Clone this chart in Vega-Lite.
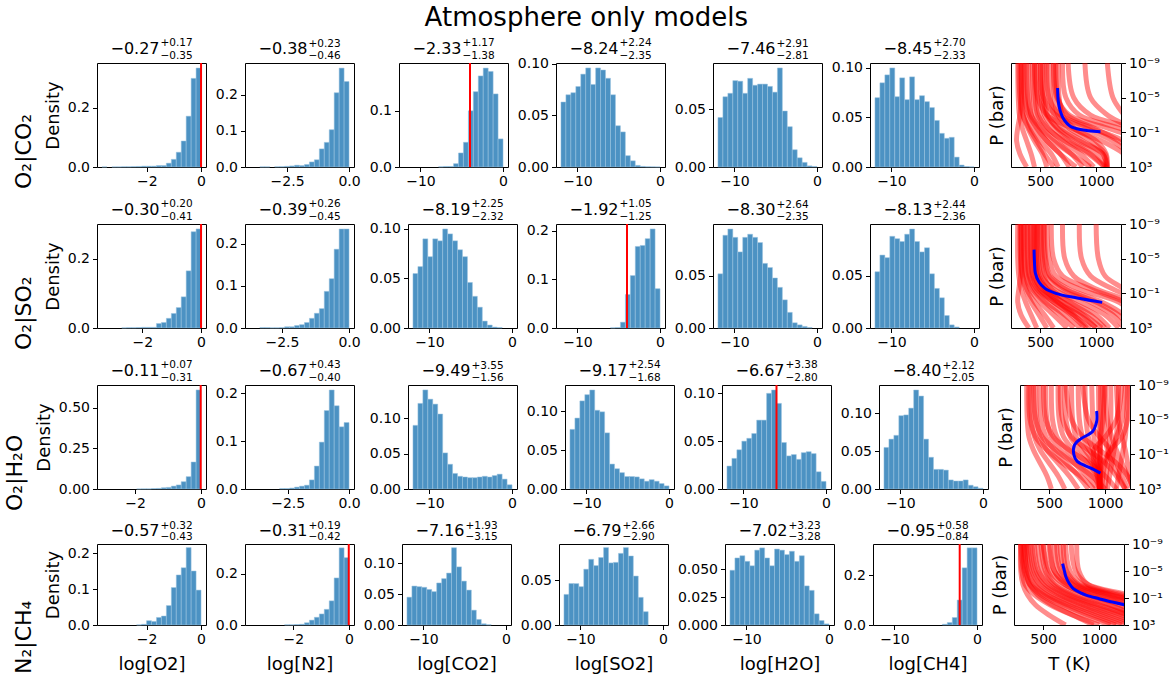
{
"$schema":"https://vega.github.io/schema/vega-lite/v6.json",
"background":"white",
"padding":{"left":3,"top":4,"right":4,"bottom":4},
"title":{"text":"Atmosphere only models","fontSize":26,"fontWeight":"normal","font":"DejaVu Sans","color":"black","anchor":"middle","offset":7},
"config":{
 "font":"DejaVu Sans",
 "view":{"stroke":"black","strokeWidth":1},
 "axis":{"labelFont":"DejaVu Sans","titleFont":"DejaVu Sans","labelFontSize":14,"labelColor":"black","tickColor":"black","tickSize":4.5,"tickWidth":1,"labelPadding":3,"domain":false,"grid":false,"titleFontSize":18,"titleFontWeight":"normal","titleColor":"black","titlePadding":5,"labelFlush":false,"labelOverlap":false},
 "axisX":{"titlePadding":9},
 "bar":{"color":"#4c92c3","stroke":"#9cc4e0","strokeWidth":0.5},
 "rule":{"color":"red","strokeWidth":2},
 "text":{"font":"DejaVu Sans","color":"black","baseline":"alphabetic"},
 "concat":{"spacing":7}
},
"datasets":{
"h11":[{"a":-3.65,"b":-3.468,"d":0.0005},{"a":-3.285,"b":-3.103,"d":0.0005},{"a":-3.103,"b":-2.92,"d":0.0005},{"a":-2.92,"b":-2.738,"d":0.001},{"a":-2.738,"b":-2.555,"d":0.001},{"a":-2.555,"b":-2.373,"d":0.0015},{"a":-2.373,"b":-2.19,"d":0.002},{"a":-2.19,"b":-2.008,"d":0.003},{"a":-2.008,"b":-1.825,"d":0.003},{"a":-1.825,"b":-1.643,"d":0.003},{"a":-1.643,"b":-1.46,"d":0.005},{"a":-1.46,"b":-1.278,"d":0.005},{"a":-1.278,"b":-1.095,"d":0.013},{"a":-1.095,"b":-0.913,"d":0.026},{"a":-0.913,"b":-0.73,"d":0.05},{"a":-0.73,"b":-0.548,"d":0.088},{"a":-0.548,"b":-0.365,"d":0.172},{"a":-0.365,"b":-0.183,"d":0.3},{"a":-0.183,"b":0,"d":0.335}],
"h12":[{"a":-3.6,"b":-3.4,"d":0.0005},{"a":-3.4,"b":-3.2,"d":0.0005},{"a":-3,"b":-2.8,"d":0.001},{"a":-2.8,"b":-2.6,"d":0.001},{"a":-2.6,"b":-2.4,"d":0.002},{"a":-2.4,"b":-2.2,"d":0.003},{"a":-2.2,"b":-2,"d":0.005},{"a":-2,"b":-1.8,"d":0.004},{"a":-1.8,"b":-1.6,"d":0.007},{"a":-1.6,"b":-1.4,"d":0.014},{"a":-1.4,"b":-1.2,"d":0.02},{"a":-1.2,"b":-1,"d":0.05},{"a":-1,"b":-0.8,"d":0.068},{"a":-0.8,"b":-0.6,"d":0.103},{"a":-0.6,"b":-0.4,"d":0.205},{"a":-0.4,"b":-0.2,"d":0.273},{"a":-0.2,"b":0,"d":0.236}],
"h13":[{"a":-7.8,"b":-7.2,"d":0.0005},{"a":-7.2,"b":-6.6,"d":0.001},{"a":-6.6,"b":-6,"d":0.001},{"a":-6,"b":-5.4,"d":0.006},{"a":-5.4,"b":-4.8,"d":0.025},{"a":-4.8,"b":-4.2,"d":0.044},{"a":-4.2,"b":-3.6,"d":0.1},{"a":-3.6,"b":-3,"d":0.134},{"a":-3,"b":-2.4,"d":0.162},{"a":-2.4,"b":-1.8,"d":0.176},{"a":-1.8,"b":-1.2,"d":0.17},{"a":-1.2,"b":-0.6,"d":0.13},{"a":-0.6,"b":0,"d":0.05}],
"h14":[{"a":-12,"b":-11.4,"d":0.063},{"a":-11.4,"b":-10.8,"d":0.07},{"a":-10.8,"b":-10.2,"d":0.072},{"a":-10.2,"b":-9.6,"d":0.078},{"a":-9.6,"b":-9,"d":0.09},{"a":-9,"b":-8.4,"d":0.096},{"a":-8.4,"b":-7.8,"d":0.08},{"a":-7.8,"b":-7.2,"d":0.096},{"a":-7.2,"b":-6.6,"d":0.094},{"a":-6.6,"b":-6,"d":0.086},{"a":-6,"b":-5.4,"d":0.07},{"a":-5.4,"b":-4.8,"d":0.04},{"a":-4.8,"b":-4.2,"d":0.034},{"a":-4.2,"b":-3.6,"d":0.011},{"a":-3.6,"b":-3,"d":0.006},{"a":-3,"b":-2.4,"d":0.0016},{"a":-2.4,"b":-1.8,"d":0.0006},{"a":-1.8,"b":-1.2,"d":0.0003},{"a":-1.2,"b":-0.6,"d":0.0002},{"a":-0.6,"b":0,"d":0.0001}],
"h15":[{"a":-12,"b":-11.4,"d":0.043},{"a":-11.4,"b":-10.8,"d":0.061},{"a":-10.8,"b":-10.2,"d":0.064},{"a":-10.2,"b":-9.6,"d":0.075},{"a":-9.6,"b":-9,"d":0.0745},{"a":-9,"b":-8.4,"d":0.064},{"a":-8.4,"b":-7.8,"d":0.077},{"a":-7.8,"b":-7.2,"d":0.071},{"a":-7.2,"b":-6.6,"d":0.072},{"a":-6.6,"b":-6,"d":0.072},{"a":-6,"b":-5.4,"d":0.07},{"a":-5.4,"b":-4.8,"d":0.065},{"a":-4.8,"b":-4.2,"d":0.086},{"a":-4.2,"b":-3.6,"d":0.0486},{"a":-3.6,"b":-3,"d":0.035},{"a":-3,"b":-2.4,"d":0.015},{"a":-2.4,"b":-1.8,"d":0.008},{"a":-1.8,"b":-1.2,"d":0.004},{"a":-1.2,"b":-0.6,"d":0.001},{"a":-0.6,"b":0,"d":0.0005}],
"h16":[{"a":-12,"b":-11.4,"d":0.07},{"a":-11.4,"b":-10.8,"d":0.085},{"a":-10.8,"b":-10.2,"d":0.093},{"a":-10.2,"b":-9.6,"d":0.1},{"a":-9.6,"b":-9,"d":0.071},{"a":-9,"b":-8.4,"d":0.09},{"a":-8.4,"b":-7.8,"d":0.068},{"a":-7.8,"b":-7.2,"d":0.091},{"a":-7.2,"b":-6.6,"d":0.068},{"a":-6.6,"b":-6,"d":0.072},{"a":-6,"b":-5.4,"d":0.066},{"a":-5.4,"b":-4.8,"d":0.06},{"a":-4.8,"b":-4.2,"d":0.047},{"a":-4.2,"b":-3.6,"d":0.034},{"a":-3.6,"b":-3,"d":0.029},{"a":-3,"b":-2.4,"d":0.03},{"a":-2.4,"b":-1.8,"d":0.01},{"a":-1.8,"b":-1.2,"d":0.002},{"a":-1.2,"b":-0.6,"d":0.0005},{"a":-0.6,"b":0,"d":0.0002}],
"h21":[{"a":-2.704,"b":-2.535,"d":0.0005},{"a":-2.535,"b":-2.366,"d":0.001},{"a":-2.366,"b":-2.197,"d":0.001},{"a":-2.197,"b":-2.028,"d":0.0015},{"a":-2.028,"b":-1.859,"d":0.002},{"a":-1.859,"b":-1.69,"d":0.002},{"a":-1.69,"b":-1.521,"d":0.002},{"a":-1.521,"b":-1.352,"d":0.013},{"a":-1.352,"b":-1.183,"d":0.016},{"a":-1.183,"b":-1.014,"d":0.028},{"a":-1.014,"b":-0.845,"d":0.042},{"a":-0.845,"b":-0.676,"d":0.059},{"a":-0.676,"b":-0.507,"d":0.09},{"a":-0.507,"b":-0.338,"d":0.165},{"a":-0.338,"b":-0.169,"d":0.278},{"a":-0.169,"b":0,"d":0.286}],
"h22":[{"a":-3.321,"b":-3.137,"d":0.001},{"a":-3.137,"b":-2.952,"d":0.001},{"a":-2.952,"b":-2.768,"d":0.0005},{"a":-2.768,"b":-2.583,"d":0.0005},{"a":-2.583,"b":-2.399,"d":0.001},{"a":-2.399,"b":-2.214,"d":0.003},{"a":-2.214,"b":-2.03,"d":0.003},{"a":-2.03,"b":-1.845,"d":0.006},{"a":-1.845,"b":-1.661,"d":0.008},{"a":-1.661,"b":-1.476,"d":0.013},{"a":-1.476,"b":-1.292,"d":0.023},{"a":-1.292,"b":-1.107,"d":0.035},{"a":-1.107,"b":-0.923,"d":0.046},{"a":-0.923,"b":-0.738,"d":0.087},{"a":-0.738,"b":-0.554,"d":0.117},{"a":-0.554,"b":-0.369,"d":0.187},{"a":-0.369,"b":-0.185,"d":0.235},{"a":-0.185,"b":0,"d":0.235}],
"h23":[{"a":-12,"b":-11.4,"d":0.055},{"a":-11.4,"b":-10.8,"d":0.062},{"a":-10.8,"b":-10.2,"d":0.09},{"a":-10.2,"b":-9.6,"d":0.072},{"a":-9.6,"b":-9,"d":0.09},{"a":-9,"b":-8.4,"d":0.088},{"a":-8.4,"b":-7.8,"d":0.1},{"a":-7.8,"b":-7.2,"d":0.095},{"a":-7.2,"b":-6.6,"d":0.088},{"a":-6.6,"b":-6,"d":0.079},{"a":-6,"b":-5.4,"d":0.072},{"a":-5.4,"b":-4.8,"d":0.046},{"a":-4.8,"b":-4.2,"d":0.032},{"a":-4.2,"b":-3.6,"d":0.021},{"a":-3.6,"b":-3,"d":0.007},{"a":-3,"b":-2.4,"d":0.003},{"a":-2.4,"b":-1.8,"d":0.001},{"a":-1.8,"b":-1.2,"d":0.0005}],
"h24":[{"a":-6,"b":-5.4,"d":0.0005},{"a":-5.4,"b":-4.8,"d":0.001},{"a":-4.8,"b":-4.2,"d":0.012},{"a":-4.2,"b":-3.6,"d":0.069},{"a":-3.6,"b":-3,"d":0.108},{"a":-3,"b":-2.4,"d":0.168},{"a":-2.4,"b":-1.8,"d":0.17},{"a":-1.8,"b":-1.2,"d":0.184},{"a":-1.2,"b":-0.6,"d":0.204},{"a":-0.6,"b":0,"d":0.081}],
"h25":[{"a":-12,"b":-11.4,"d":0.052},{"a":-11.4,"b":-10.8,"d":0.089},{"a":-10.8,"b":-10.2,"d":0.095},{"a":-10.2,"b":-9.6,"d":0.087},{"a":-9.6,"b":-9,"d":0.073},{"a":-9,"b":-8.4,"d":0.087},{"a":-8.4,"b":-7.8,"d":0.09},{"a":-7.8,"b":-7.2,"d":0.087},{"a":-7.2,"b":-6.6,"d":0.082},{"a":-6.6,"b":-6,"d":0.062},{"a":-6,"b":-5.4,"d":0.058},{"a":-5.4,"b":-4.8,"d":0.048},{"a":-4.8,"b":-4.2,"d":0.039},{"a":-4.2,"b":-3.6,"d":0.027},{"a":-3.6,"b":-3,"d":0.015},{"a":-3,"b":-2.4,"d":0.005},{"a":-2.4,"b":-1.8,"d":0.003},{"a":-1.8,"b":-1.2,"d":0.0015},{"a":-1.2,"b":-0.6,"d":0.0005}],
"h26":[{"a":-12,"b":-11.4,"d":0.054},{"a":-11.4,"b":-10.8,"d":0.07},{"a":-10.8,"b":-10.2,"d":0.0675},{"a":-10.2,"b":-9.6,"d":0.088},{"a":-9.6,"b":-9,"d":0.0857},{"a":-9,"b":-8.4,"d":0.083},{"a":-8.4,"b":-7.8,"d":0.09},{"a":-7.8,"b":-7.2,"d":0.095},{"a":-7.2,"b":-6.6,"d":0.083},{"a":-6.6,"b":-6,"d":0.073},{"a":-6,"b":-5.4,"d":0.077},{"a":-5.4,"b":-4.8,"d":0.052},{"a":-4.8,"b":-4.2,"d":0.038},{"a":-4.2,"b":-3.6,"d":0.029},{"a":-3.6,"b":-3,"d":0.012},{"a":-3,"b":-2.4,"d":0.003},{"a":-2.4,"b":-1.8,"d":0.001}],
"h31":[{"a":-1.95,"b":-1.8,"d":0.0005},{"a":-1.8,"b":-1.65,"d":0.001},{"a":-1.65,"b":-1.5,"d":0.001},{"a":-1.5,"b":-1.35,"d":0.003},{"a":-1.35,"b":-1.2,"d":0.004},{"a":-1.2,"b":-1.05,"d":0.008},{"a":-1.05,"b":-0.9,"d":0.01},{"a":-0.9,"b":-0.75,"d":0.018},{"a":-0.75,"b":-0.6,"d":0.025},{"a":-0.6,"b":-0.45,"d":0.045},{"a":-0.45,"b":-0.3,"d":0.076},{"a":-0.3,"b":-0.15,"d":0.166},{"a":-0.15,"b":0,"d":0.609}],
"h32":[{"a":-2.828,"b":-2.626,"d":0.001},{"a":-2.626,"b":-2.424,"d":0.001},{"a":-2.424,"b":-2.222,"d":0.002},{"a":-2.222,"b":-2.02,"d":0.004},{"a":-2.02,"b":-1.818,"d":0.006},{"a":-1.818,"b":-1.616,"d":0.008},{"a":-1.616,"b":-1.414,"d":0.019},{"a":-1.414,"b":-1.212,"d":0.048},{"a":-1.212,"b":-1.01,"d":0.098},{"a":-1.01,"b":-0.808,"d":0.164},{"a":-0.808,"b":-0.606,"d":0.207},{"a":-0.606,"b":-0.404,"d":0.174},{"a":-0.404,"b":-0.202,"d":0.13},{"a":-0.202,"b":0,"d":0.139}],
"h33":[{"a":-12,"b":-11.4,"d":0.09},{"a":-11.4,"b":-10.8,"d":0.121},{"a":-10.8,"b":-10.2,"d":0.14},{"a":-10.2,"b":-9.6,"d":0.127},{"a":-9.6,"b":-9,"d":0.12},{"a":-9,"b":-8.4,"d":0.106},{"a":-8.4,"b":-7.8,"d":0.051},{"a":-7.8,"b":-7.2,"d":0.035},{"a":-7.2,"b":-6.6,"d":0.022},{"a":-6.6,"b":-6,"d":0.018},{"a":-6,"b":-5.4,"d":0.017},{"a":-5.4,"b":-4.8,"d":0.016},{"a":-4.8,"b":-4.2,"d":0.016},{"a":-4.2,"b":-3.6,"d":0.017},{"a":-3.6,"b":-3,"d":0.018},{"a":-3,"b":-2.4,"d":0.017},{"a":-2.4,"b":-1.8,"d":0.019},{"a":-1.8,"b":-1.2,"d":0.021},{"a":-1.2,"b":-0.6,"d":0.014},{"a":-0.6,"b":0,"d":0.006}],
"h34":[{"a":-12,"b":-11.4,"d":0.0765},{"a":-11.4,"b":-10.8,"d":0.091},{"a":-10.8,"b":-10.2,"d":0.113},{"a":-10.2,"b":-9.6,"d":0.121},{"a":-9.6,"b":-9,"d":0.127},{"a":-9,"b":-8.4,"d":0.101},{"a":-8.4,"b":-7.8,"d":0.099},{"a":-7.8,"b":-7.2,"d":0.072},{"a":-7.2,"b":-6.6,"d":0.032},{"a":-6.6,"b":-6,"d":0.026},{"a":-6,"b":-5.4,"d":0.021},{"a":-5.4,"b":-4.8,"d":0.016},{"a":-4.8,"b":-4.2,"d":0.016},{"a":-4.2,"b":-3.6,"d":0.0155},{"a":-3.6,"b":-3,"d":0.013},{"a":-3,"b":-2.4,"d":0.01},{"a":-2.4,"b":-1.8,"d":0.012},{"a":-1.8,"b":-1.2,"d":0.01},{"a":-1.2,"b":-0.6,"d":0.007},{"a":-0.6,"b":0,"d":0.004}],
"h35":[{"a":-12,"b":-11.4,"d":0.024},{"a":-11.4,"b":-10.8,"d":0.032},{"a":-10.8,"b":-10.2,"d":0.041},{"a":-10.2,"b":-9.6,"d":0.05},{"a":-9.6,"b":-9,"d":0.053},{"a":-9,"b":-8.4,"d":0.058},{"a":-8.4,"b":-7.8,"d":0.072},{"a":-7.8,"b":-7.2,"d":0.072},{"a":-7.2,"b":-6.6,"d":0.1},{"a":-6.6,"b":-6,"d":0.1035},{"a":-6,"b":-5.4,"d":0.0895},{"a":-5.4,"b":-4.8,"d":0.0486},{"a":-4.8,"b":-4.2,"d":0.0346},{"a":-4.2,"b":-3.6,"d":0.036},{"a":-3.6,"b":-3,"d":0.031},{"a":-3,"b":-2.4,"d":0.038},{"a":-2.4,"b":-1.8,"d":0.039},{"a":-1.8,"b":-1.2,"d":0.037},{"a":-1.2,"b":-0.6,"d":0.018},{"a":-0.6,"b":0,"d":0.008}],
"h36":[{"a":-12,"b":-11.4,"d":0.055},{"a":-11.4,"b":-10.8,"d":0.066},{"a":-10.8,"b":-10.2,"d":0.071},{"a":-10.2,"b":-9.6,"d":0.097},{"a":-9.6,"b":-9,"d":0.098},{"a":-9,"b":-8.4,"d":0.107},{"a":-8.4,"b":-7.8,"d":0.131},{"a":-7.8,"b":-7.2,"d":0.123},{"a":-7.2,"b":-6.6,"d":0.066},{"a":-6.6,"b":-6,"d":0.042},{"a":-6,"b":-5.4,"d":0.026},{"a":-5.4,"b":-4.8,"d":0.026},{"a":-4.8,"b":-4.2,"d":0.025},{"a":-4.2,"b":-3.6,"d":0.012},{"a":-3.6,"b":-3,"d":0.0106},{"a":-3,"b":-2.4,"d":0.0106},{"a":-2.4,"b":-1.8,"d":0.012},{"a":-1.8,"b":-1.2,"d":0.005},{"a":-1.2,"b":-0.6,"d":0.003},{"a":-0.6,"b":0,"d":0.001}],
"h41":[{"a":-2.366,"b":-2.184,"d":0.0005},{"a":-2.184,"b":-2.002,"d":0.002},{"a":-2.002,"b":-1.82,"d":0.012},{"a":-1.82,"b":-1.638,"d":0.01},{"a":-1.638,"b":-1.456,"d":0.021},{"a":-1.456,"b":-1.274,"d":0.025},{"a":-1.274,"b":-1.092,"d":0.054},{"a":-1.092,"b":-0.91,"d":0.104},{"a":-0.91,"b":-0.728,"d":0.139},{"a":-0.728,"b":-0.546,"d":0.159},{"a":-0.546,"b":-0.364,"d":0.215},{"a":-0.364,"b":-0.182,"d":0.15},{"a":-0.182,"b":0,"d":0.097}],
"h42":[{"a":-2.308,"b":-2.13,"d":0.001},{"a":-2.13,"b":-1.953,"d":0.001},{"a":-1.953,"b":-1.775,"d":0.002},{"a":-1.775,"b":-1.598,"d":0.003},{"a":-1.598,"b":-1.42,"d":0.009},{"a":-1.42,"b":-1.243,"d":0.019},{"a":-1.243,"b":-1.065,"d":0.03},{"a":-1.065,"b":-0.888,"d":0.043},{"a":-0.888,"b":-0.71,"d":0.061},{"a":-0.71,"b":-0.533,"d":0.094},{"a":-0.533,"b":-0.355,"d":0.183},{"a":-0.355,"b":-0.178,"d":0.3},{"a":-0.178,"b":0,"d":0.262}],
"h43":[{"a":-12,"b":-11.4,"d":0.045},{"a":-11.4,"b":-10.8,"d":0.063},{"a":-10.8,"b":-10.2,"d":0.062},{"a":-10.2,"b":-9.6,"d":0.061},{"a":-9.6,"b":-9,"d":0.0575},{"a":-9,"b":-8.4,"d":0.054},{"a":-8.4,"b":-7.8,"d":0.068},{"a":-7.8,"b":-7.2,"d":0.075},{"a":-7.2,"b":-6.6,"d":0.084},{"a":-6.6,"b":-6,"d":0.125},{"a":-6,"b":-5.4,"d":0.094},{"a":-5.4,"b":-4.8,"d":0.071},{"a":-4.8,"b":-4.2,"d":0.0565},{"a":-4.2,"b":-3.6,"d":0.024},{"a":-3.6,"b":-3,"d":0.009},{"a":-3,"b":-2.4,"d":0.002},{"a":-2.4,"b":-1.8,"d":0.0005}],
"h44":[{"a":-12,"b":-11.4,"d":0.034},{"a":-11.4,"b":-10.8,"d":0.046},{"a":-10.8,"b":-10.2,"d":0.046},{"a":-10.2,"b":-9.6,"d":0.0426},{"a":-9.6,"b":-9,"d":0.062},{"a":-9,"b":-8.4,"d":0.073},{"a":-8.4,"b":-7.8,"d":0.066},{"a":-7.8,"b":-7.2,"d":0.075},{"a":-7.2,"b":-6.6,"d":0.086},{"a":-6.6,"b":-6,"d":0.069},{"a":-6,"b":-5.4,"d":0.0696},{"a":-5.4,"b":-4.8,"d":0.0796},{"a":-4.8,"b":-4.2,"d":0.086},{"a":-4.2,"b":-3.6,"d":0.0767},{"a":-3.6,"b":-3,"d":0.0544},{"a":-3,"b":-2.4,"d":0.0307},{"a":-2.4,"b":-1.8,"d":0.0148}],
"h45":[{"a":-12,"b":-11.4,"d":0.049},{"a":-11.4,"b":-10.8,"d":0.06},{"a":-10.8,"b":-10.2,"d":0.062},{"a":-10.2,"b":-9.6,"d":0.057},{"a":-9.6,"b":-9,"d":0.053},{"a":-9,"b":-8.4,"d":0.067},{"a":-8.4,"b":-7.8,"d":0.069},{"a":-7.8,"b":-7.2,"d":0.06},{"a":-7.2,"b":-6.6,"d":0.053},{"a":-6.6,"b":-6,"d":0.068},{"a":-6,"b":-5.4,"d":0.067},{"a":-5.4,"b":-4.8,"d":0.063},{"a":-4.8,"b":-4.2,"d":0.066},{"a":-4.2,"b":-3.6,"d":0.057},{"a":-3.6,"b":-3,"d":0.062},{"a":-3,"b":-2.4,"d":0.035},{"a":-2.4,"b":-1.8,"d":0.031},{"a":-1.8,"b":-1.2,"d":0.01},{"a":-1.2,"b":-0.6,"d":0.004},{"a":-0.6,"b":0,"d":0.001}],
"h46":[{"a":-4.2,"b":-3.6,"d":0.003},{"a":-3.6,"b":-3,"d":0.01},{"a":-3,"b":-2.4,"d":0.03},{"a":-2.4,"b":-1.8,"d":0.1},{"a":-1.8,"b":-1.2,"d":0.229},{"a":-1.2,"b":-0.6,"d":0.309},{"a":-0.6,"b":0,"d":0.309}],
"pt1":[
{"i":1,"p":1e-9,"t":300},{"i":1,"p":1e-5,"t":305},{"i":1,"p":0.001,"t":315},{"i":1,"p":0.0316,"t":340},{"i":1,"p":1,"t":380},{"i":1,"p":31.6,"t":420},{"i":1,"p":1000,"t":450},
{"i":2,"p":1e-9,"t":330},{"i":2,"p":1e-5,"t":335},{"i":2,"p":0.001,"t":350},{"i":2,"p":0.0316,"t":390},{"i":2,"p":1,"t":450},{"i":2,"p":31.6,"t":520},{"i":2,"p":1000,"t":560},
{"i":3,"p":1e-9,"t":360},{"i":3,"p":1e-5,"t":365},{"i":3,"p":0.001,"t":380},{"i":3,"p":0.0316,"t":420},{"i":3,"p":1,"t":500},{"i":3,"p":31.6,"t":600},{"i":3,"p":1000,"t":660},
{"i":4,"p":1e-9,"t":400},{"i":4,"p":1e-5,"t":405},{"i":4,"p":0.001,"t":420},{"i":4,"p":0.0316,"t":470},{"i":4,"p":1,"t":560},{"i":4,"p":31.6,"t":680},{"i":4,"p":1000,"t":760},
{"i":5,"p":1e-9,"t":430},{"i":5,"p":1e-5,"t":440},{"i":5,"p":0.001,"t":460},{"i":5,"p":0.0316,"t":520},{"i":5,"p":1,"t":640},{"i":5,"p":31.6,"t":780},{"i":5,"p":1000,"t":880},
{"i":6,"p":1e-9,"t":470},{"i":6,"p":1e-5,"t":475},{"i":6,"p":0.001,"t":500},{"i":6,"p":0.0316,"t":570},{"i":6,"p":1,"t":700},{"i":6,"p":31.6,"t":860},{"i":6,"p":1000,"t":980},
{"i":7,"p":1e-9,"t":500},{"i":7,"p":1e-5,"t":510},{"i":7,"p":0.001,"t":540},{"i":7,"p":0.0316,"t":620},{"i":7,"p":1,"t":760},{"i":7,"p":31.6,"t":950},{"i":7,"p":1000,"t":1080},
{"i":8,"p":1e-9,"t":540},{"i":8,"p":1e-5,"t":545},{"i":8,"p":0.001,"t":570},{"i":8,"p":0.0316,"t":650},{"i":8,"p":1,"t":800},{"i":8,"p":31.6,"t":1000},{"i":8,"p":1000,"t":1085},
{"i":9,"p":1e-9,"t":580},{"i":9,"p":1e-5,"t":590},{"i":9,"p":0.001,"t":620},{"i":9,"p":0.0316,"t":700},{"i":9,"p":1,"t":880},{"i":9,"p":31.6,"t":1060},{"i":9,"p":1000,"t":1090},
{"i":10,"p":1e-9,"t":620},{"i":10,"p":1e-5,"t":630},{"i":10,"p":0.001,"t":660},{"i":10,"p":0.0316,"t":760},{"i":10,"p":1,"t":950},{"i":10,"p":31.6,"t":1080},{"i":10,"p":1000,"t":1095},
{"i":11,"p":1e-9,"t":350},{"i":11,"p":1e-5,"t":360},{"i":11,"p":0.001,"t":400},{"i":11,"p":0.0316,"t":470},{"i":11,"p":1,"t":560},{"i":11,"p":31.6,"t":680},{"i":11,"p":1000,"t":820},
{"i":12,"p":1e-9,"t":450},{"i":12,"p":1e-5,"t":455},{"i":12,"p":0.001,"t":480},{"i":12,"p":0.0316,"t":560},{"i":12,"p":1,"t":720},{"i":12,"p":31.6,"t":930},{"i":12,"p":1000,"t":1075},
{"i":13,"p":1e-9,"t":520},{"i":13,"p":1e-5,"t":525},{"i":13,"p":0.001,"t":560},{"i":13,"p":0.0316,"t":660},{"i":13,"p":1,"t":850},{"i":13,"p":31.6,"t":1060},{"i":13,"p":1000,"t":1100},
{"i":14,"p":1e-9,"t":380},{"i":14,"p":1e-5,"t":390},{"i":14,"p":0.001,"t":420},{"i":14,"p":0.0316,"t":500},{"i":14,"p":1,"t":620},{"i":14,"p":31.6,"t":780},{"i":14,"p":1000,"t":950},
{"i":15,"p":1e-9,"t":310},{"i":15,"p":1e-5,"t":320},{"i":15,"p":0.001,"t":345},{"i":15,"p":0.0316,"t":400},{"i":15,"p":1,"t":470},{"i":15,"p":31.6,"t":540},{"i":15,"p":1000,"t":620},
{"i":16,"p":1e-9,"t":660},{"i":16,"p":1e-5,"t":670},{"i":16,"p":0.001,"t":700},{"i":16,"p":0.0316,"t":800},{"i":16,"p":1,"t":1000},{"i":16,"p":31.6,"t":1090},{"i":16,"p":1000,"t":1100},
{"i":17,"p":1e-9,"t":560},{"i":17,"p":1e-5,"t":580},{"i":17,"p":0.001,"t":680},{"i":17,"p":0.0316,"t":950},{"i":17,"p":1,"t":1250},{"i":17,"p":31.6,"t":1400},{"i":17,"p":1000,"t":1500},
{"i":18,"p":1e-9,"t":620},{"i":18,"p":1e-5,"t":650},{"i":18,"p":0.001,"t":760},{"i":18,"p":0.0316,"t":1100},{"i":18,"p":1,"t":1400},{"i":18,"p":31.6,"t":1500},{"i":18,"p":1000,"t":1600},
{"i":19,"p":1e-9,"t":500},{"i":19,"p":1e-5,"t":530},{"i":19,"p":0.001,"t":640},{"i":19,"p":0.0316,"t":900},{"i":19,"p":1,"t":1150},{"i":19,"p":31.6,"t":1300},{"i":19,"p":1000,"t":1400},
{"i":20,"p":1e-9,"t":700},{"i":20,"p":1e-5,"t":730},{"i":20,"p":0.001,"t":850},{"i":20,"p":0.0316,"t":1200},{"i":20,"p":1,"t":1500},{"i":20,"p":31.6,"t":1600},{"i":20,"p":1000,"t":1700},
{"i":21,"p":1e-9,"t":750},{"i":21,"p":1e-5,"t":800},{"i":21,"p":0.001,"t":950},{"i":21,"p":0.0316,"t":1300},{"i":21,"p":1,"t":1500},{"i":21,"p":31.6,"t":1600},{"i":21,"p":1000,"t":1700},
{"i":22,"p":1e-9,"t":450},{"i":22,"p":1e-5,"t":480},{"i":22,"p":0.001,"t":560},{"i":22,"p":0.0316,"t":780},{"i":22,"p":1,"t":1050},{"i":22,"p":31.6,"t":1250},{"i":22,"p":1000,"t":1350},
{"i":23,"p":1e-9,"t":900},{"i":23,"p":1e-5,"t":950},{"i":23,"p":0.001,"t":1100},{"i":23,"p":0.0316,"t":1300},{"i":23,"p":1,"t":1400},{"i":23,"p":31.6,"t":1500},{"i":23,"p":1000,"t":1600},
{"i":24,"p":1e-9,"t":1100},{"i":24,"p":1e-5,"t":1150},{"i":24,"p":0.001,"t":1250},{"i":24,"p":0.0316,"t":1350},{"i":24,"p":1,"t":1400},{"i":24,"p":31.6,"t":1500},{"i":24,"p":1000,"t":1600},
{"i":25,"p":1e-9,"t":640},{"i":25,"p":1e-5,"t":660},{"i":25,"p":0.001,"t":740},{"i":25,"p":0.0316,"t":980},{"i":25,"p":1,"t":1200},{"i":25,"p":31.6,"t":1350},{"i":25,"p":1000,"t":1450},
{"i":26,"p":1e-9,"t":330},{"i":26,"p":1e-5,"t":330},{"i":26,"p":0.001,"t":320},{"i":26,"p":0.0316,"t":300},{"i":26,"p":1,"t":290},{"i":26,"p":31.6,"t":320},{"i":26,"p":1000,"t":380}],
"pt2":[
{"i":1,"p":1e-9,"t":300},{"i":1,"p":1e-5,"t":300},{"i":1,"p":0.001,"t":310},{"i":1,"p":0.0316,"t":330},{"i":1,"p":1,"t":370},{"i":1,"p":31.6,"t":420},{"i":1,"p":1000,"t":470},
{"i":2,"p":1e-9,"t":330},{"i":2,"p":1e-5,"t":335},{"i":2,"p":0.001,"t":345},{"i":2,"p":0.0316,"t":380},{"i":2,"p":1,"t":450},{"i":2,"p":31.6,"t":540},{"i":2,"p":1000,"t":620},
{"i":3,"p":1e-9,"t":360},{"i":3,"p":1e-5,"t":365},{"i":3,"p":0.001,"t":380},{"i":3,"p":0.0316,"t":430},{"i":3,"p":1,"t":540},{"i":3,"p":31.6,"t":680},{"i":3,"p":1000,"t":800},
{"i":4,"p":1e-9,"t":390},{"i":4,"p":1e-5,"t":395},{"i":4,"p":0.001,"t":410},{"i":4,"p":0.0316,"t":470},{"i":4,"p":1,"t":620},{"i":4,"p":31.6,"t":800},{"i":4,"p":1000,"t":950},
{"i":5,"p":1e-9,"t":420},{"i":5,"p":1e-5,"t":425},{"i":5,"p":0.001,"t":440},{"i":5,"p":0.0316,"t":520},{"i":5,"p":1,"t":700},{"i":5,"p":31.6,"t":900},{"i":5,"p":1000,"t":1050},
{"i":6,"p":1e-9,"t":450},{"i":6,"p":1e-5,"t":455},{"i":6,"p":0.001,"t":475},{"i":6,"p":0.0316,"t":560},{"i":6,"p":1,"t":780},{"i":6,"p":31.6,"t":1000},{"i":6,"p":1000,"t":1120},
{"i":7,"p":1e-9,"t":480},{"i":7,"p":1e-5,"t":485},{"i":7,"p":0.001,"t":510},{"i":7,"p":0.0316,"t":620},{"i":7,"p":1,"t":860},{"i":7,"p":31.6,"t":1080},{"i":7,"p":1000,"t":1200},
{"i":8,"p":1e-9,"t":510},{"i":8,"p":1e-5,"t":520},{"i":8,"p":0.001,"t":550},{"i":8,"p":0.0316,"t":680},{"i":8,"p":1,"t":950},{"i":8,"p":31.6,"t":1150},{"i":8,"p":1000,"t":1250},
{"i":9,"p":1e-9,"t":540},{"i":9,"p":1e-5,"t":550},{"i":9,"p":0.001,"t":590},{"i":9,"p":0.0316,"t":750},{"i":9,"p":1,"t":1050},{"i":9,"p":31.6,"t":1250},{"i":9,"p":1000,"t":1350},
{"i":10,"p":1e-9,"t":560},{"i":10,"p":1e-5,"t":580},{"i":10,"p":0.001,"t":640},{"i":10,"p":0.0316,"t":850},{"i":10,"p":1,"t":1200},{"i":10,"p":31.6,"t":1350},{"i":10,"p":1000,"t":1450},
{"i":11,"p":1e-9,"t":320},{"i":11,"p":1e-5,"t":325},{"i":11,"p":0.001,"t":340},{"i":11,"p":0.0316,"t":370},{"i":11,"p":1,"t":420},{"i":11,"p":31.6,"t":490},{"i":11,"p":1000,"t":560},
{"i":12,"p":1e-9,"t":440},{"i":12,"p":1e-5,"t":440},{"i":12,"p":0.001,"t":455},{"i":12,"p":0.0316,"t":500},{"i":12,"p":1,"t":620},{"i":12,"p":31.6,"t":780},{"i":12,"p":1000,"t":900},
{"i":13,"p":1e-9,"t":470},{"i":13,"p":1e-5,"t":470},{"i":13,"p":0.001,"t":490},{"i":13,"p":0.0316,"t":560},{"i":13,"p":1,"t":700},{"i":13,"p":31.6,"t":880},{"i":13,"p":1000,"t":1000},
{"i":14,"p":1e-9,"t":380},{"i":14,"p":1e-5,"t":385},{"i":14,"p":0.001,"t":400},{"i":14,"p":0.0316,"t":450},{"i":14,"p":1,"t":560},{"i":14,"p":31.6,"t":720},{"i":14,"p":1000,"t":860},
{"i":15,"p":1e-9,"t":500},{"i":15,"p":1e-5,"t":505},{"i":15,"p":0.001,"t":530},{"i":15,"p":0.0316,"t":600},{"i":15,"p":1,"t":760},{"i":15,"p":31.6,"t":950},{"i":15,"p":1000,"t":1080},
{"i":16,"p":1e-9,"t":350},{"i":16,"p":1e-5,"t":355},{"i":16,"p":0.001,"t":370},{"i":16,"p":0.0316,"t":410},{"i":16,"p":1,"t":500},{"i":16,"p":31.6,"t":620},{"i":16,"p":1000,"t":740},
{"i":17,"p":1e-9,"t":410},{"i":17,"p":1e-5,"t":415},{"i":17,"p":0.001,"t":430},{"i":17,"p":0.0316,"t":490},{"i":17,"p":1,"t":650},{"i":17,"p":31.6,"t":850},{"i":17,"p":1000,"t":1000},
{"i":18,"p":1e-9,"t":530},{"i":18,"p":1e-5,"t":540},{"i":18,"p":0.001,"t":580},{"i":18,"p":0.0316,"t":720},{"i":18,"p":1,"t":1000},{"i":18,"p":31.6,"t":1200},{"i":18,"p":1000,"t":1300},
{"i":19,"p":1e-9,"t":700},{"i":19,"p":1e-5,"t":720},{"i":19,"p":0.001,"t":800},{"i":19,"p":0.0316,"t":1000},{"i":19,"p":1,"t":1300},{"i":19,"p":31.6,"t":1400},{"i":19,"p":1000,"t":1500},
{"i":20,"p":1e-9,"t":850},{"i":20,"p":1e-5,"t":870},{"i":20,"p":0.001,"t":950},{"i":20,"p":0.0316,"t":1150},{"i":20,"p":1,"t":1400},{"i":20,"p":31.6,"t":1500},{"i":20,"p":1000,"t":1600},
{"i":21,"p":1e-9,"t":1000},{"i":21,"p":1e-5,"t":1020},{"i":21,"p":0.001,"t":1080},{"i":21,"p":0.0316,"t":1250},{"i":21,"p":1,"t":1400},{"i":21,"p":31.6,"t":1500},{"i":21,"p":1000,"t":1600},
{"i":22,"p":1e-9,"t":600},{"i":22,"p":1e-5,"t":620},{"i":22,"p":0.001,"t":700},{"i":22,"p":0.0316,"t":950},{"i":22,"p":1,"t":1250},{"i":22,"p":31.6,"t":1400},{"i":22,"p":1000,"t":1500},
{"i":23,"p":1e-9,"t":330},{"i":23,"p":1e-5,"t":330},{"i":23,"p":0.001,"t":325},{"i":23,"p":0.0316,"t":310},{"i":23,"p":1,"t":300},{"i":23,"p":31.6,"t":330},{"i":23,"p":1000,"t":400},
{"i":24,"p":1e-9,"t":460},{"i":24,"p":1e-5,"t":465},{"i":24,"p":0.001,"t":480},{"i":24,"p":0.0316,"t":540},{"i":24,"p":1,"t":660},{"i":24,"p":31.6,"t":800},{"i":24,"p":1000,"t":920}],
"pt3":[
{"i":1,"p":1e-9,"t":300},{"i":1,"p":1e-5,"t":305},{"i":1,"p":0.001,"t":320},{"i":1,"p":0.0316,"t":360},{"i":1,"p":1,"t":420},{"i":1,"p":31.6,"t":480},{"i":1,"p":1000,"t":520},
{"i":2,"p":1e-9,"t":340},{"i":2,"p":1e-5,"t":345},{"i":2,"p":0.001,"t":370},{"i":2,"p":0.0316,"t":420},{"i":2,"p":1,"t":500},{"i":2,"p":31.6,"t":580},{"i":2,"p":1000,"t":640},
{"i":3,"p":1e-9,"t":380},{"i":3,"p":1e-5,"t":390},{"i":3,"p":0.001,"t":420},{"i":3,"p":0.0316,"t":480},{"i":3,"p":1,"t":580},{"i":3,"p":31.6,"t":680},{"i":3,"p":1000,"t":760},
{"i":4,"p":1e-9,"t":420},{"i":4,"p":1e-5,"t":430},{"i":4,"p":0.001,"t":470},{"i":4,"p":0.0316,"t":540},{"i":4,"p":1,"t":650},{"i":4,"p":31.6,"t":760},{"i":4,"p":1000,"t":850},
{"i":5,"p":1e-9,"t":470},{"i":5,"p":1e-5,"t":480},{"i":5,"p":0.001,"t":520},{"i":5,"p":0.0316,"t":600},{"i":5,"p":1,"t":720},{"i":5,"p":31.6,"t":840},{"i":5,"p":1000,"t":930},
{"i":6,"p":1e-9,"t":520},{"i":6,"p":1e-5,"t":530},{"i":6,"p":0.001,"t":570},{"i":6,"p":0.0316,"t":660},{"i":6,"p":1,"t":780},{"i":6,"p":31.6,"t":900},{"i":6,"p":1000,"t":950},
{"i":7,"p":1e-9,"t":580},{"i":7,"p":1e-5,"t":590},{"i":7,"p":0.001,"t":630},{"i":7,"p":0.0316,"t":720},{"i":7,"p":1,"t":840},{"i":7,"p":31.6,"t":930},{"i":7,"p":1000,"t":950},
{"i":8,"p":1e-9,"t":640},{"i":8,"p":1e-5,"t":650},{"i":8,"p":0.001,"t":690},{"i":8,"p":0.0316,"t":780},{"i":8,"p":1,"t":880},{"i":8,"p":31.6,"t":940},{"i":8,"p":1000,"t":950},
{"i":9,"p":1e-9,"t":700},{"i":9,"p":1e-5,"t":710},{"i":9,"p":0.001,"t":740},{"i":9,"p":0.0316,"t":820},{"i":9,"p":1,"t":900},{"i":9,"p":31.6,"t":945},{"i":9,"p":1000,"t":950},
{"i":10,"p":1e-9,"t":760},{"i":10,"p":1e-5,"t":770},{"i":10,"p":0.001,"t":800},{"i":10,"p":0.0316,"t":860},{"i":10,"p":1,"t":920},{"i":10,"p":31.6,"t":950},{"i":10,"p":1000,"t":955},
{"i":11,"p":1e-9,"t":820},{"i":11,"p":1e-5,"t":830},{"i":11,"p":0.001,"t":850},{"i":11,"p":0.0316,"t":890},{"i":11,"p":1,"t":930},{"i":11,"p":31.6,"t":950},{"i":11,"p":1000,"t":955},
{"i":12,"p":1e-9,"t":880},{"i":12,"p":1e-5,"t":890},{"i":12,"p":0.001,"t":900},{"i":12,"p":0.0316,"t":920},{"i":12,"p":1,"t":940},{"i":12,"p":31.6,"t":950},{"i":12,"p":1000,"t":950},
{"i":13,"p":1e-9,"t":940},{"i":13,"p":1e-5,"t":945},{"i":13,"p":0.001,"t":950},{"i":13,"p":0.0316,"t":950},{"i":13,"p":1,"t":950},{"i":13,"p":31.6,"t":950},{"i":13,"p":1000,"t":950},
{"i":14,"p":1e-9,"t":960},{"i":14,"p":1e-5,"t":960},{"i":14,"p":0.001,"t":960},{"i":14,"p":0.0316,"t":960},{"i":14,"p":1,"t":960},{"i":14,"p":31.6,"t":960},{"i":14,"p":1000,"t":960},
{"i":15,"p":1e-9,"t":1000},{"i":15,"p":1e-5,"t":1020},{"i":15,"p":0.001,"t":1060},{"i":15,"p":0.0316,"t":1100},{"i":15,"p":1,"t":1150},{"i":15,"p":31.6,"t":1200},{"i":15,"p":1000,"t":1250},
{"i":16,"p":1e-9,"t":1100},{"i":16,"p":1e-5,"t":1120},{"i":16,"p":0.001,"t":1150},{"i":16,"p":0.0316,"t":1180},{"i":16,"p":1,"t":1200},{"i":16,"p":31.6,"t":1220},{"i":16,"p":1000,"t":1250},
{"i":17,"p":1e-9,"t":1180},{"i":17,"p":1e-5,"t":1150},{"i":17,"p":0.001,"t":1100},{"i":17,"p":0.0316,"t":1050},{"i":17,"p":1,"t":1000},{"i":17,"p":31.6,"t":980},{"i":17,"p":1000,"t":970},
{"i":18,"p":1e-9,"t":1150},{"i":18,"p":1e-5,"t":1100},{"i":18,"p":0.001,"t":1000},{"i":18,"p":0.0316,"t":900},{"i":18,"p":1,"t":900},{"i":18,"p":31.6,"t":930},{"i":18,"p":1000,"t":950},
{"i":19,"p":1e-9,"t":1220},{"i":19,"p":1e-5,"t":1200},{"i":19,"p":0.001,"t":1150},{"i":19,"p":0.0316,"t":1050},{"i":19,"p":1,"t":980},{"i":19,"p":31.6,"t":960},{"i":19,"p":1000,"t":955},
{"i":20,"p":1e-9,"t":360},{"i":20,"p":1e-5,"t":380},{"i":20,"p":0.001,"t":440},{"i":20,"p":0.0316,"t":560},{"i":20,"p":1,"t":720},{"i":20,"p":31.6,"t":880},{"i":20,"p":1000,"t":1000},
{"i":21,"p":1e-9,"t":450},{"i":21,"p":1e-5,"t":470},{"i":21,"p":0.001,"t":540},{"i":21,"p":0.0316,"t":680},{"i":21,"p":1,"t":860},{"i":21,"p":31.6,"t":1000},{"i":21,"p":1000,"t":1100},
{"i":22,"p":1e-9,"t":600},{"i":22,"p":1e-5,"t":620},{"i":22,"p":0.001,"t":700},{"i":22,"p":0.0316,"t":850},{"i":22,"p":1,"t":1000},{"i":22,"p":31.6,"t":1100},{"i":22,"p":1000,"t":1180},
{"i":23,"p":1e-9,"t":320},{"i":23,"p":1e-5,"t":330},{"i":23,"p":0.001,"t":380},{"i":23,"p":0.0316,"t":480},{"i":23,"p":1,"t":620},{"i":23,"p":31.6,"t":780},{"i":23,"p":1000,"t":900},
{"i":24,"p":1e-9,"t":980},{"i":24,"p":1e-5,"t":990},{"i":24,"p":0.001,"t":1000},{"i":24,"p":0.0316,"t":1020},{"i":24,"p":1,"t":1060},{"i":24,"p":31.6,"t":1120},{"i":24,"p":1000,"t":1180},
{"i":25,"p":1e-9,"t":1050},{"i":25,"p":1e-5,"t":1050},{"i":25,"p":0.001,"t":1040},{"i":25,"p":0.0316,"t":1030},{"i":25,"p":1,"t":1020},{"i":25,"p":31.6,"t":1010},{"i":25,"p":1000,"t":1000},
{"i":26,"p":1e-9,"t":1120},{"i":26,"p":1e-5,"t":1110},{"i":26,"p":0.001,"t":1100},{"i":26,"p":0.0316,"t":1080},{"i":26,"p":1,"t":1060},{"i":26,"p":31.6,"t":1040},{"i":26,"p":1000,"t":1020},
{"i":27,"p":1e-9,"t":1200},{"i":27,"p":1e-5,"t":1190},{"i":27,"p":0.001,"t":1180},{"i":27,"p":0.0316,"t":1160},{"i":27,"p":1,"t":1140},{"i":27,"p":31.6,"t":1120},{"i":27,"p":1000,"t":1100},
{"i":28,"p":1e-9,"t":800},{"i":28,"p":1e-5,"t":850},{"i":28,"p":0.001,"t":950},{"i":28,"p":0.0316,"t":1050},{"i":28,"p":1,"t":1100},{"i":28,"p":31.6,"t":1150},{"i":28,"p":1000,"t":1200},
{"i":29,"p":1e-9,"t":650},{"i":29,"p":1e-5,"t":700},{"i":29,"p":0.001,"t":800},{"i":29,"p":0.0316,"t":950},{"i":29,"p":1,"t":1100},{"i":29,"p":31.6,"t":1200},{"i":29,"p":1000,"t":1250},
{"i":30,"p":1e-9,"t":1000},{"i":30,"p":1e-5,"t":980},{"i":30,"p":0.001,"t":960},{"i":30,"p":0.0316,"t":955},{"i":30,"p":1,"t":955},{"i":30,"p":31.6,"t":955},{"i":30,"p":1000,"t":955}],
"pt4":[
{"i":1,"p":1e-9,"t":600},{"i":1,"p":1e-5,"t":640},{"i":1,"p":0.001,"t":760},{"i":1,"p":0.0316,"t":1000},{"i":1,"p":1,"t":1300},{"i":1,"p":31.6,"t":1450},{"i":1,"p":1000,"t":1550},
{"i":2,"p":1e-9,"t":650},{"i":2,"p":1e-5,"t":690},{"i":2,"p":0.001,"t":800},{"i":2,"p":0.0316,"t":1080},{"i":2,"p":1,"t":1380},{"i":2,"p":31.6,"t":1500},{"i":2,"p":1000,"t":1600},
{"i":3,"p":1e-9,"t":700},{"i":3,"p":1e-5,"t":740},{"i":3,"p":0.001,"t":850},{"i":3,"p":0.0316,"t":1150},{"i":3,"p":1,"t":1450},{"i":3,"p":31.6,"t":1550},{"i":3,"p":1000,"t":1650},
{"i":4,"p":1e-9,"t":750},{"i":4,"p":1e-5,"t":790},{"i":4,"p":0.001,"t":900},{"i":4,"p":0.0316,"t":1250},{"i":4,"p":1,"t":1500},{"i":4,"p":31.6,"t":1600},{"i":4,"p":1000,"t":1700},
{"i":5,"p":1e-9,"t":550},{"i":5,"p":1e-5,"t":600},{"i":5,"p":0.001,"t":720},{"i":5,"p":0.0316,"t":950},{"i":5,"p":1,"t":1230},{"i":5,"p":31.6,"t":1400},{"i":5,"p":1000,"t":1500},
{"i":6,"p":1e-9,"t":800},{"i":6,"p":1e-5,"t":820},{"i":6,"p":0.001,"t":900},{"i":6,"p":0.0316,"t":1200},{"i":6,"p":1,"t":1500},{"i":6,"p":31.6,"t":1600},{"i":6,"p":1000,"t":1700},
{"i":7,"p":1e-9,"t":500},{"i":7,"p":1e-5,"t":560},{"i":7,"p":0.001,"t":690},{"i":7,"p":0.0316,"t":900},{"i":7,"p":1,"t":1180},{"i":7,"p":31.6,"t":1350},{"i":7,"p":1000,"t":1450},
{"i":8,"p":1e-9,"t":680},{"i":8,"p":1e-5,"t":710},{"i":8,"p":0.001,"t":820},{"i":8,"p":0.0316,"t":1100},{"i":8,"p":1,"t":1400},{"i":8,"p":31.6,"t":1500},{"i":8,"p":1000,"t":1600},
{"i":9,"p":1e-9,"t":300},{"i":9,"p":1e-5,"t":330},{"i":9,"p":0.001,"t":380},{"i":9,"p":0.0316,"t":480},{"i":9,"p":1,"t":650},{"i":9,"p":31.6,"t":850},{"i":9,"p":1000,"t":1100},
{"i":10,"p":1e-9,"t":330},{"i":10,"p":1e-5,"t":360},{"i":10,"p":0.001,"t":420},{"i":10,"p":0.0316,"t":530},{"i":10,"p":1,"t":720},{"i":10,"p":31.6,"t":950},{"i":10,"p":1000,"t":1200},
{"i":11,"p":1e-9,"t":360},{"i":11,"p":1e-5,"t":400},{"i":11,"p":0.001,"t":470},{"i":11,"p":0.0316,"t":600},{"i":11,"p":1,"t":800},{"i":11,"p":31.6,"t":1050},{"i":11,"p":1000,"t":1300},
{"i":12,"p":1e-9,"t":400},{"i":12,"p":1e-5,"t":440},{"i":12,"p":0.001,"t":520},{"i":12,"p":0.0316,"t":660},{"i":12,"p":1,"t":880},{"i":12,"p":31.6,"t":1150},{"i":12,"p":1000,"t":1400},
{"i":13,"p":1e-9,"t":320},{"i":13,"p":1e-5,"t":340},{"i":13,"p":0.001,"t":390},{"i":13,"p":0.0316,"t":500},{"i":13,"p":1,"t":680},{"i":13,"p":31.6,"t":900},{"i":13,"p":1000,"t":1150},
{"i":14,"p":1e-9,"t":450},{"i":14,"p":1e-5,"t":490},{"i":14,"p":0.001,"t":580},{"i":14,"p":0.0316,"t":730},{"i":14,"p":1,"t":980},{"i":14,"p":31.6,"t":1250},{"i":14,"p":1000,"t":1500},
{"i":15,"p":1e-9,"t":300},{"i":15,"p":1e-5,"t":310},{"i":15,"p":0.001,"t":340},{"i":15,"p":0.0316,"t":420},{"i":15,"p":1,"t":560},{"i":15,"p":31.6,"t":760},{"i":15,"p":1000,"t":1000},
{"i":16,"p":1e-9,"t":500},{"i":16,"p":1e-5,"t":540},{"i":16,"p":0.001,"t":630},{"i":16,"p":0.0316,"t":800},{"i":16,"p":1,"t":1080},{"i":16,"p":31.6,"t":1350},{"i":16,"p":1000,"t":1600},
{"i":17,"p":1e-9,"t":350},{"i":17,"p":1e-5,"t":380},{"i":17,"p":0.001,"t":440},{"i":17,"p":0.0316,"t":560},{"i":17,"p":1,"t":760},{"i":17,"p":31.6,"t":1000},{"i":17,"p":1000,"t":1250},
{"i":18,"p":1e-9,"t":420},{"i":18,"p":1e-5,"t":460},{"i":18,"p":0.001,"t":550},{"i":18,"p":0.0316,"t":700},{"i":18,"p":1,"t":930},{"i":18,"p":31.6,"t":1200},{"i":18,"p":1000,"t":1450},
{"i":19,"p":1e-9,"t":560},{"i":19,"p":1e-5,"t":600},{"i":19,"p":0.001,"t":700},{"i":19,"p":0.0316,"t":880},{"i":19,"p":1,"t":1100},{"i":19,"p":31.6,"t":1300},{"i":19,"p":1000,"t":1450},
{"i":20,"p":1e-9,"t":300},{"i":20,"p":1e-5,"t":300},{"i":20,"p":0.001,"t":320},{"i":20,"p":0.0316,"t":360},{"i":20,"p":1,"t":430},{"i":20,"p":31.6,"t":550},{"i":20,"p":1000,"t":700},
{"i":21,"p":1e-9,"t":380},{"i":21,"p":1e-5,"t":420},{"i":21,"p":0.001,"t":500},{"i":21,"p":0.0316,"t":640},{"i":21,"p":1,"t":850},{"i":21,"p":31.6,"t":1100},{"i":21,"p":1000,"t":1350},
{"i":22,"p":1e-9,"t":620},{"i":22,"p":1e-5,"t":660},{"i":22,"p":0.001,"t":780},{"i":22,"p":0.0316,"t":1040},{"i":22,"p":1,"t":1330},{"i":22,"p":31.6,"t":1480},{"i":22,"p":1000,"t":1580},
{"i":23,"p":1e-9,"t":480},{"i":23,"p":1e-5,"t":520},{"i":23,"p":0.001,"t":600},{"i":23,"p":0.0316,"t":760},{"i":23,"p":1,"t":1000},{"i":23,"p":31.6,"t":1280},{"i":23,"p":1000,"t":1550},
{"i":24,"p":1e-9,"t":340},{"i":24,"p":1e-5,"t":350},{"i":24,"p":0.001,"t":380},{"i":24,"p":0.0316,"t":450},{"i":24,"p":1,"t":580},{"i":24,"p":31.6,"t":760},{"i":24,"p":1000,"t":950}],
"b1":[{"p":7.6e-7,"t":656},{"p":2.6e-5,"t":662},{"p":3.6e-4,"t":680},{"p":0.004,"t":716},{"p":0.0195,"t":769},{"p":0.0468,"t":859},{"p":0.087,"t":1039}],
"b2":[{"p":9.1e-7,"t":446},{"p":3.2e-5,"t":450},{"p":5e-4,"t":458},{"p":0.005,"t":490},{"p":0.025,"t":540},{"p":0.1,"t":640},{"p":0.347,"t":830},{"p":1.1,"t":1054}],
"b3":[{"p":1e-6,"t":924},{"p":1.66e-5,"t":924},{"p":2.34e-4,"t":888},{"p":0.00162,"t":782},{"p":0.0079,"t":727},{"p":0.112,"t":721},{"p":0.66,"t":751},{"p":3.89,"t":873},{"p":14.5,"t":958}],
"b4":[{"p":7.9e-7,"t":674},{"p":1e-5,"t":690},{"p":7.9e-5,"t":704},{"p":7.9e-4,"t":735},{"p":0.004,"t":769},{"p":0.0158,"t":830},{"p":0.0398,"t":889},{"p":0.126,"t":1000},{"p":0.251,"t":1069},{"p":1.12,"t":1240}]
},
"spacing":9,
"vconcat":[
{"title":{"text":"O₂|CO₂","orient":"left","fontSize":22,"fontWeight":"normal","font":"DejaVu Sans","color":"black","offset":8},"spacing":7,"hconcat":[
 {"width":109,"height":104,"layer":[
  {"data":{"name":"h11"},"mark":"bar","encoding":{"x":{"field":"a","type":"quantitative","scale":{"domain":[-3.8325,0.1825],"nice":false,"zero":false},"axis":{"values":[-2,0],"format":"d","title":null}},"x2":{"field":"b"},"y":{"field":"d","type":"quantitative","scale":{"domain":[0,0.352],"nice":false},"axis":{"values":[0,0.2],"format":".1f","title":"Density"}},"y2":{"datum":0}}},
  {"data":{"values":[{"v":0}]},"mark":"rule","encoding":{"x":{"field":"v","type":"quantitative"}}},
  {"data":{"values":[{"m":"−0.27","p":"+0.17","n":"−0.35"}]},"layer":[
   {"mark":{"type":"text","align":"right","fontSize":16},"encoding":{"x":{"datum":-1.53},"y":{"datum":0.3824},"text":{"field":"m"}}},
   {"mark":{"type":"text","align":"left","fontSize":10.5,"dx":1},"encoding":{"x":{"datum":-1.53},"y":{"datum":0.4079},"text":{"field":"p"}}},
   {"mark":{"type":"text","align":"left","fontSize":10.5,"dx":1},"encoding":{"x":{"datum":-1.53},"y":{"datum":0.3656},"text":{"field":"n"}}}]}]},
 {"width":109,"height":104,"layer":[
  {"data":{"name":"h12"},"mark":"bar","encoding":{"x":{"field":"a","type":"quantitative","scale":{"domain":[-4.2,0.2],"nice":false,"zero":false},"axis":{"values":[-2.5,0],"format":".1f","title":null}},"x2":{"field":"b"},"y":{"field":"d","type":"quantitative","scale":{"domain":[0,0.287],"nice":false},"axis":{"values":[0,0.1,0.2],"format":".1f","title":null}},"y2":{"datum":0}}},
  {"data":{"values":[{"m":"−0.38","p":"+0.23","n":"−0.46"}]},"layer":[
   {"mark":{"type":"text","align":"right","fontSize":16},"encoding":{"x":{"datum":-1.677},"y":{"datum":0.3115},"text":{"field":"m"}}},
   {"mark":{"type":"text","align":"left","fontSize":10.5,"dx":1},"encoding":{"x":{"datum":-1.677},"y":{"datum":0.3325},"text":{"field":"p"}}},
   {"mark":{"type":"text","align":"left","fontSize":10.5,"dx":1},"encoding":{"x":{"datum":-1.677},"y":{"datum":0.298},"text":{"field":"n"}}}]}]},
 {"width":109,"height":104,"layer":[
  {"data":{"name":"h13"},"mark":"bar","encoding":{"x":{"field":"a","type":"quantitative","scale":{"domain":[-12.6,0.6],"nice":false,"zero":false},"axis":{"values":[-10,0],"format":"d","title":null}},"x2":{"field":"b"},"y":{"field":"d","type":"quantitative","scale":{"domain":[0,0.185],"nice":false},"axis":{"values":[0,0.1],"format":".1f","title":null}},"y2":{"datum":0}}},
  {"data":{"values":[{"v":-4}]},"mark":"rule","encoding":{"x":{"field":"v","type":"quantitative"}}},
  {"data":{"values":[{"m":"−2.33","p":"+1.17","n":"−1.38"}]},"layer":[
   {"mark":{"type":"text","align":"right","fontSize":16},"encoding":{"x":{"datum":-5.031},"y":{"datum":0.2008},"text":{"field":"m"}}},
   {"mark":{"type":"text","align":"left","fontSize":10.5,"dx":1},"encoding":{"x":{"datum":-5.031},"y":{"datum":0.2144},"text":{"field":"p"}}},
   {"mark":{"type":"text","align":"left","fontSize":10.5,"dx":1},"encoding":{"x":{"datum":-5.031},"y":{"datum":0.1921},"text":{"field":"n"}}}]}]},
 {"width":109,"height":104,"layer":[
  {"data":{"name":"h14"},"mark":"bar","encoding":{"x":{"field":"a","type":"quantitative","scale":{"domain":[-12.6,0.6],"nice":false,"zero":false},"axis":{"values":[-10,0],"format":"d","title":null}},"x2":{"field":"b"},"y":{"field":"d","type":"quantitative","scale":{"domain":[0,0.1008],"nice":false},"axis":{"values":[0,0.05,0.1],"format":".2f","title":null}},"y2":{"datum":0}}},
  {"data":{"values":[{"m":"−8.24","p":"+2.24","n":"−2.35"}]},"layer":[
   {"mark":{"type":"text","align":"right","fontSize":16},"encoding":{"x":{"datum":-5.031},"y":{"datum":0.1095},"text":{"field":"m"}}},
   {"mark":{"type":"text","align":"left","fontSize":10.5,"dx":1},"encoding":{"x":{"datum":-5.031},"y":{"datum":0.1168},"text":{"field":"p"}}},
   {"mark":{"type":"text","align":"left","fontSize":10.5,"dx":1},"encoding":{"x":{"datum":-5.031},"y":{"datum":0.1047},"text":{"field":"n"}}}]}]},
 {"width":109,"height":104,"layer":[
  {"data":{"name":"h15"},"mark":"bar","encoding":{"x":{"field":"a","type":"quantitative","scale":{"domain":[-12.6,0.6],"nice":false,"zero":false},"axis":{"values":[-10,0],"format":"d","title":null}},"x2":{"field":"b"},"y":{"field":"d","type":"quantitative","scale":{"domain":[0,0.0903],"nice":false},"axis":{"values":[0,0.05],"format":".2f","title":null}},"y2":{"datum":0}}},
  {"data":{"values":[{"m":"−7.46","p":"+2.91","n":"−2.81"}]},"layer":[
   {"mark":{"type":"text","align":"right","fontSize":16},"encoding":{"x":{"datum":-5.031},"y":{"datum":0.0981},"text":{"field":"m"}}},
   {"mark":{"type":"text","align":"left","fontSize":10.5,"dx":1},"encoding":{"x":{"datum":-5.031},"y":{"datum":0.1046},"text":{"field":"p"}}},
   {"mark":{"type":"text","align":"left","fontSize":10.5,"dx":1},"encoding":{"x":{"datum":-5.031},"y":{"datum":0.0938},"text":{"field":"n"}}}]}]},
 {"width":109,"height":104,"layer":[
  {"data":{"name":"h16"},"mark":"bar","encoding":{"x":{"field":"a","type":"quantitative","scale":{"domain":[-12.6,0.6],"nice":false,"zero":false},"axis":{"values":[-10,0],"format":"d","title":null}},"x2":{"field":"b"},"y":{"field":"d","type":"quantitative","scale":{"domain":[0,0.105],"nice":false},"axis":{"values":[0,0.05,0.1],"format":".2f","title":null}},"y2":{"datum":0}}},
  {"data":{"values":[{"m":"−8.45","p":"+2.70","n":"−2.33"}]},"layer":[
   {"mark":{"type":"text","align":"right","fontSize":16},"encoding":{"x":{"datum":-5.031},"y":{"datum":0.1141},"text":{"field":"m"}}},
   {"mark":{"type":"text","align":"left","fontSize":10.5,"dx":1},"encoding":{"x":{"datum":-5.031},"y":{"datum":0.1217},"text":{"field":"p"}}},
   {"mark":{"type":"text","align":"left","fontSize":10.5,"dx":1},"encoding":{"x":{"datum":-5.031},"y":{"datum":0.109},"text":{"field":"n"}}}]}]},
 {"width":110,"height":104,"resolve":{"axis":{"y":"independent"}},"layer":[
  {"data":{"name":"pt1"},"mark":{"type":"line","color":"red","opacity":0.45,"strokeWidth":5,"clip":true,"interpolate":"catmull-rom"},"encoding":{"x":{"field":"t","type":"quantitative","scale":{"domain":[240,1222],"nice":false,"zero":false},"axis":{"values":[500,1000],"format":"d","title":null}},"y":{"field":"p","type":"quantitative","scale":{"type":"log","domain":[1e-9,1000],"reverse":true,"nice":false},"axis":{"orient":"left","labels":false,"ticks":false,"title":"P (bar)"}},"detail":{"field":"i","type":"nominal"},"order":{"field":"p","type":"quantitative"}}},
  {"data":{"name":"b1"},"mark":{"type":"line","color":"blue","strokeWidth":3,"clip":true,"interpolate":"catmull-rom"},"encoding":{"x":{"field":"t","type":"quantitative","axis":{"values":[500,1000],"format":"d","title":null}},"y":{"field":"p","type":"quantitative","axis":{"orient":"right","values":[1e-9,1e-5,0.1,1000],"labelExpr":"datum.value < 1e-7 ? '10⁻⁹' : datum.value < 0.001 ? '10⁻⁵' : datum.value < 10 ? '10⁻¹' : '10³'","title":null}},"order":{"field":"p","type":"quantitative"}}}]}
]},
{"title":{"text":"O₂|SO₂","orient":"left","fontSize":22,"fontWeight":"normal","font":"DejaVu Sans","color":"black","offset":8},"spacing":7,"hconcat":[
 {"width":109,"height":104,"layer":[
  {"data":{"name":"h21"},"mark":"bar","encoding":{"x":{"field":"a","type":"quantitative","scale":{"domain":[-3.549,0.169],"nice":false,"zero":false},"axis":{"values":[-2,0],"format":"d","title":null}},"x2":{"field":"b"},"y":{"field":"d","type":"quantitative","scale":{"domain":[0,0.3003],"nice":false},"axis":{"values":[0,0.2],"format":".1f","title":"Density"}},"y2":{"datum":0}}},
  {"data":{"values":[{"v":0}]},"mark":"rule","encoding":{"x":{"field":"v","type":"quantitative"}}},
  {"data":{"values":[{"m":"−0.30","p":"+0.20","n":"−0.41"}]},"layer":[
   {"mark":{"type":"text","align":"right","fontSize":16},"encoding":{"x":{"datum":-1.417},"y":{"datum":0.3263},"text":{"field":"m"}}},
   {"mark":{"type":"text","align":"left","fontSize":10.5,"dx":1},"encoding":{"x":{"datum":-1.417},"y":{"datum":0.348},"text":{"field":"p"}}},
   {"mark":{"type":"text","align":"left","fontSize":10.5,"dx":1},"encoding":{"x":{"datum":-1.417},"y":{"datum":0.3119},"text":{"field":"n"}}}]}]},
 {"width":109,"height":104,"layer":[
  {"data":{"name":"h22"},"mark":"bar","encoding":{"x":{"field":"a","type":"quantitative","scale":{"domain":[-3.8745,0.1845],"nice":false,"zero":false},"axis":{"values":[-2.5,0],"format":".1f","title":null}},"x2":{"field":"b"},"y":{"field":"d","type":"quantitative","scale":{"domain":[0,0.2468],"nice":false},"axis":{"values":[0,0.1,0.2],"format":".1f","title":null}},"y2":{"datum":0}}},
  {"data":{"values":[{"m":"−0.39","p":"+0.26","n":"−0.45"}]},"layer":[
   {"mark":{"type":"text","align":"right","fontSize":16},"encoding":{"x":{"datum":-1.547},"y":{"datum":0.2681},"text":{"field":"m"}}},
   {"mark":{"type":"text","align":"left","fontSize":10.5,"dx":1},"encoding":{"x":{"datum":-1.547},"y":{"datum":0.286},"text":{"field":"p"}}},
   {"mark":{"type":"text","align":"left","fontSize":10.5,"dx":1},"encoding":{"x":{"datum":-1.547},"y":{"datum":0.2563},"text":{"field":"n"}}}]}]},
 {"width":109,"height":104,"layer":[
  {"data":{"name":"h23"},"mark":"bar","encoding":{"x":{"field":"a","type":"quantitative","scale":{"domain":[-12.6,0.6],"nice":false,"zero":false},"axis":{"values":[-10,0],"format":"d","title":null}},"x2":{"field":"b"},"y":{"field":"d","type":"quantitative","scale":{"domain":[0,0.105],"nice":false},"axis":{"values":[0,0.05,0.1],"format":".2f","title":null}},"y2":{"datum":0}}},
  {"data":{"values":[{"m":"−8.19","p":"+2.25","n":"−2.32"}]},"layer":[
   {"mark":{"type":"text","align":"right","fontSize":16},"encoding":{"x":{"datum":-5.031},"y":{"datum":0.1141},"text":{"field":"m"}}},
   {"mark":{"type":"text","align":"left","fontSize":10.5,"dx":1},"encoding":{"x":{"datum":-5.031},"y":{"datum":0.1217},"text":{"field":"p"}}},
   {"mark":{"type":"text","align":"left","fontSize":10.5,"dx":1},"encoding":{"x":{"datum":-5.031},"y":{"datum":0.109},"text":{"field":"n"}}}]}]},
 {"width":109,"height":104,"layer":[
  {"data":{"name":"h24"},"mark":"bar","encoding":{"x":{"field":"a","type":"quantitative","scale":{"domain":[-12.6,0.6],"nice":false,"zero":false},"axis":{"values":[-10,0],"format":"d","title":null}},"x2":{"field":"b"},"y":{"field":"d","type":"quantitative","scale":{"domain":[0,0.2142],"nice":false},"axis":{"values":[0,0.1,0.2],"format":".1f","title":null}},"y2":{"datum":0}}},
  {"data":{"values":[{"v":-4}]},"mark":"rule","encoding":{"x":{"field":"v","type":"quantitative"}}},
  {"data":{"values":[{"m":"−1.92","p":"+1.05","n":"−1.25"}]},"layer":[
   {"mark":{"type":"text","align":"right","fontSize":16},"encoding":{"x":{"datum":-5.031},"y":{"datum":0.2327},"text":{"field":"m"}}},
   {"mark":{"type":"text","align":"left","fontSize":10.5,"dx":1},"encoding":{"x":{"datum":-5.031},"y":{"datum":0.2482},"text":{"field":"p"}}},
   {"mark":{"type":"text","align":"left","fontSize":10.5,"dx":1},"encoding":{"x":{"datum":-5.031},"y":{"datum":0.2224},"text":{"field":"n"}}}]}]},
 {"width":109,"height":104,"layer":[
  {"data":{"name":"h25"},"mark":"bar","encoding":{"x":{"field":"a","type":"quantitative","scale":{"domain":[-12.6,0.6],"nice":false,"zero":false},"axis":{"values":[-10,0],"format":"d","title":null}},"x2":{"field":"b"},"y":{"field":"d","type":"quantitative","scale":{"domain":[0,0.0998],"nice":false},"axis":{"values":[0,0.05],"format":".2f","title":null}},"y2":{"datum":0}}},
  {"data":{"values":[{"m":"−8.30","p":"+2.64","n":"−2.35"}]},"layer":[
   {"mark":{"type":"text","align":"right","fontSize":16},"encoding":{"x":{"datum":-5.031},"y":{"datum":0.1084},"text":{"field":"m"}}},
   {"mark":{"type":"text","align":"left","fontSize":10.5,"dx":1},"encoding":{"x":{"datum":-5.031},"y":{"datum":0.1156},"text":{"field":"p"}}},
   {"mark":{"type":"text","align":"left","fontSize":10.5,"dx":1},"encoding":{"x":{"datum":-5.031},"y":{"datum":0.1036},"text":{"field":"n"}}}]}]},
 {"width":109,"height":104,"layer":[
  {"data":{"name":"h26"},"mark":"bar","encoding":{"x":{"field":"a","type":"quantitative","scale":{"domain":[-12.6,0.6],"nice":false,"zero":false},"axis":{"values":[-10,0],"format":"d","title":null}},"x2":{"field":"b"},"y":{"field":"d","type":"quantitative","scale":{"domain":[0,0.0998],"nice":false},"axis":{"values":[0,0.05],"format":".2f","title":null}},"y2":{"datum":0}}},
  {"data":{"values":[{"m":"−8.13","p":"+2.44","n":"−2.36"}]},"layer":[
   {"mark":{"type":"text","align":"right","fontSize":16},"encoding":{"x":{"datum":-5.031},"y":{"datum":0.1084},"text":{"field":"m"}}},
   {"mark":{"type":"text","align":"left","fontSize":10.5,"dx":1},"encoding":{"x":{"datum":-5.031},"y":{"datum":0.1156},"text":{"field":"p"}}},
   {"mark":{"type":"text","align":"left","fontSize":10.5,"dx":1},"encoding":{"x":{"datum":-5.031},"y":{"datum":0.1036},"text":{"field":"n"}}}]}]},
 {"width":110,"height":104,"resolve":{"axis":{"y":"independent"}},"layer":[
  {"data":{"name":"pt2"},"mark":{"type":"line","color":"red","opacity":0.45,"strokeWidth":5,"clip":true,"interpolate":"catmull-rom"},"encoding":{"x":{"field":"t","type":"quantitative","scale":{"domain":[240,1222],"nice":false,"zero":false},"axis":{"values":[500,1000],"format":"d","title":null}},"y":{"field":"p","type":"quantitative","scale":{"type":"log","domain":[1e-9,1000],"reverse":true,"nice":false},"axis":{"orient":"left","labels":false,"ticks":false,"title":"P (bar)"}},"detail":{"field":"i","type":"nominal"},"order":{"field":"p","type":"quantitative"}}},
  {"data":{"name":"b2"},"mark":{"type":"line","color":"blue","strokeWidth":3,"clip":true,"interpolate":"catmull-rom"},"encoding":{"x":{"field":"t","type":"quantitative","axis":{"values":[500,1000],"format":"d","title":null}},"y":{"field":"p","type":"quantitative","axis":{"orient":"right","values":[1e-9,1e-5,0.1,1000],"labelExpr":"datum.value < 1e-7 ? '10⁻⁹' : datum.value < 0.001 ? '10⁻⁵' : datum.value < 10 ? '10⁻¹' : '10³'","title":null}},"order":{"field":"p","type":"quantitative"}}}]}
]},
{"title":{"text":"O₂|H₂O","orient":"left","fontSize":22,"fontWeight":"normal","font":"DejaVu Sans","color":"black","offset":8},"spacing":7,"hconcat":[
 {"width":109,"height":104,"layer":[
  {"data":{"name":"h31"},"mark":"bar","encoding":{"x":{"field":"a","type":"quantitative","scale":{"domain":[-3.15,0.15],"nice":false,"zero":false},"axis":{"values":[-2,0],"format":"d","title":null}},"x2":{"field":"b"},"y":{"field":"d","type":"quantitative","scale":{"domain":[0,0.6395],"nice":false},"axis":{"values":[0,0.25,0.5],"format":".2f","title":"Density"}},"y2":{"datum":0}}},
  {"data":{"values":[{"v":-0.01}]},"mark":"rule","encoding":{"x":{"field":"v","type":"quantitative"}}},
  {"data":{"values":[{"m":"−0.11","p":"+0.07","n":"−0.31"}]},"layer":[
   {"mark":{"type":"text","align":"right","fontSize":16},"encoding":{"x":{"datum":-1.258},"y":{"datum":0.6948},"text":{"field":"m"}}},
   {"mark":{"type":"text","align":"left","fontSize":10.5,"dx":1},"encoding":{"x":{"datum":-1.258},"y":{"datum":0.741},"text":{"field":"p"}}},
   {"mark":{"type":"text","align":"left","fontSize":10.5,"dx":1},"encoding":{"x":{"datum":-1.258},"y":{"datum":0.6641},"text":{"field":"n"}}}]}]},
 {"width":109,"height":104,"layer":[
  {"data":{"name":"h32"},"mark":"bar","encoding":{"x":{"field":"a","type":"quantitative","scale":{"domain":[-4.242,0.202],"nice":false,"zero":false},"axis":{"values":[-2.5,0],"format":".1f","title":null}},"x2":{"field":"b"},"y":{"field":"d","type":"quantitative","scale":{"domain":[0,0.2174],"nice":false},"axis":{"values":[0,0.1,0.2],"format":".1f","title":null}},"y2":{"datum":0}}},
  {"data":{"values":[{"m":"−0.67","p":"+0.43","n":"−0.40"}]},"layer":[
   {"mark":{"type":"text","align":"right","fontSize":16},"encoding":{"x":{"datum":-1.694},"y":{"datum":0.2362},"text":{"field":"m"}}},
   {"mark":{"type":"text","align":"left","fontSize":10.5,"dx":1},"encoding":{"x":{"datum":-1.694},"y":{"datum":0.2519},"text":{"field":"p"}}},
   {"mark":{"type":"text","align":"left","fontSize":10.5,"dx":1},"encoding":{"x":{"datum":-1.694},"y":{"datum":0.2258},"text":{"field":"n"}}}]}]},
 {"width":109,"height":104,"layer":[
  {"data":{"name":"h33"},"mark":"bar","encoding":{"x":{"field":"a","type":"quantitative","scale":{"domain":[-12.6,0.6],"nice":false,"zero":false},"axis":{"values":[-10,0],"format":"d","title":null}},"x2":{"field":"b"},"y":{"field":"d","type":"quantitative","scale":{"domain":[0,0.147],"nice":false},"axis":{"values":[0,0.05,0.1],"format":".2f","title":null}},"y2":{"datum":0}}},
  {"data":{"values":[{"m":"−9.49","p":"+3.55","n":"−1.56"}]},"layer":[
   {"mark":{"type":"text","align":"right","fontSize":16},"encoding":{"x":{"datum":-5.031},"y":{"datum":0.1597},"text":{"field":"m"}}},
   {"mark":{"type":"text","align":"left","fontSize":10.5,"dx":1},"encoding":{"x":{"datum":-5.031},"y":{"datum":0.1703},"text":{"field":"p"}}},
   {"mark":{"type":"text","align":"left","fontSize":10.5,"dx":1},"encoding":{"x":{"datum":-5.031},"y":{"datum":0.1527},"text":{"field":"n"}}}]}]},
 {"width":109,"height":104,"layer":[
  {"data":{"name":"h34"},"mark":"bar","encoding":{"x":{"field":"a","type":"quantitative","scale":{"domain":[-12.6,0.6],"nice":false,"zero":false},"axis":{"values":[-10,0],"format":"d","title":null}},"x2":{"field":"b"},"y":{"field":"d","type":"quantitative","scale":{"domain":[0,0.1334],"nice":false},"axis":{"values":[0,0.05,0.1],"format":".2f","title":null}},"y2":{"datum":0}}},
  {"data":{"values":[{"m":"−9.17","p":"+2.54","n":"−1.68"}]},"layer":[
   {"mark":{"type":"text","align":"right","fontSize":16},"encoding":{"x":{"datum":-5.031},"y":{"datum":0.1449},"text":{"field":"m"}}},
   {"mark":{"type":"text","align":"left","fontSize":10.5,"dx":1},"encoding":{"x":{"datum":-5.031},"y":{"datum":0.1546},"text":{"field":"p"}}},
   {"mark":{"type":"text","align":"left","fontSize":10.5,"dx":1},"encoding":{"x":{"datum":-5.031},"y":{"datum":0.1385},"text":{"field":"n"}}}]}]},
 {"width":109,"height":104,"layer":[
  {"data":{"name":"h35"},"mark":"bar","encoding":{"x":{"field":"a","type":"quantitative","scale":{"domain":[-12.6,0.6],"nice":false,"zero":false},"axis":{"values":[-10,0],"format":"d","title":null}},"x2":{"field":"b"},"y":{"field":"d","type":"quantitative","scale":{"domain":[0,0.1087],"nice":false},"axis":{"values":[0,0.05,0.1],"format":".2f","title":null}},"y2":{"datum":0}}},
  {"data":{"values":[{"v":-6}]},"mark":"rule","encoding":{"x":{"field":"v","type":"quantitative"}}},
  {"data":{"values":[{"m":"−6.67","p":"+3.38","n":"−2.80"}]},"layer":[
   {"mark":{"type":"text","align":"right","fontSize":16},"encoding":{"x":{"datum":-5.031},"y":{"datum":0.1181},"text":{"field":"m"}}},
   {"mark":{"type":"text","align":"left","fontSize":10.5,"dx":1},"encoding":{"x":{"datum":-5.031},"y":{"datum":0.126},"text":{"field":"p"}}},
   {"mark":{"type":"text","align":"left","fontSize":10.5,"dx":1},"encoding":{"x":{"datum":-5.031},"y":{"datum":0.1129},"text":{"field":"n"}}}]}]},
 {"width":109,"height":104,"layer":[
  {"data":{"name":"h36"},"mark":"bar","encoding":{"x":{"field":"a","type":"quantitative","scale":{"domain":[-12.6,0.6],"nice":false,"zero":false},"axis":{"values":[-10,0],"format":"d","title":null}},"x2":{"field":"b"},"y":{"field":"d","type":"quantitative","scale":{"domain":[0,0.1376],"nice":false},"axis":{"values":[0,0.05,0.1],"format":".2f","title":null}},"y2":{"datum":0}}},
  {"data":{"values":[{"m":"−8.40","p":"+2.12","n":"−2.05"}]},"layer":[
   {"mark":{"type":"text","align":"right","fontSize":16},"encoding":{"x":{"datum":-5.031},"y":{"datum":0.1495},"text":{"field":"m"}}},
   {"mark":{"type":"text","align":"left","fontSize":10.5,"dx":1},"encoding":{"x":{"datum":-5.031},"y":{"datum":0.1594},"text":{"field":"p"}}},
   {"mark":{"type":"text","align":"left","fontSize":10.5,"dx":1},"encoding":{"x":{"datum":-5.031},"y":{"datum":0.1429},"text":{"field":"n"}}}]}]},
 {"width":110,"height":104,"resolve":{"axis":{"y":"independent"}},"layer":[
  {"data":{"name":"pt3"},"mark":{"type":"line","color":"red","opacity":0.45,"strokeWidth":5,"clip":true,"interpolate":"catmull-rom"},"encoding":{"x":{"field":"t","type":"quantitative","scale":{"domain":[240,1222],"nice":false,"zero":false},"axis":{"values":[500,1000],"format":"d","title":null}},"y":{"field":"p","type":"quantitative","scale":{"type":"log","domain":[1e-9,1000],"reverse":true,"nice":false},"axis":{"orient":"left","labels":false,"ticks":false,"title":"P (bar)"}},"detail":{"field":"i","type":"nominal"},"order":{"field":"p","type":"quantitative"}}},
  {"data":{"name":"b3"},"mark":{"type":"line","color":"blue","strokeWidth":3,"clip":true,"interpolate":"catmull-rom"},"encoding":{"x":{"field":"t","type":"quantitative","axis":{"values":[500,1000],"format":"d","title":null}},"y":{"field":"p","type":"quantitative","axis":{"orient":"right","values":[1e-9,1e-5,0.1,1000],"labelExpr":"datum.value < 1e-7 ? '10⁻⁹' : datum.value < 0.001 ? '10⁻⁵' : datum.value < 10 ? '10⁻¹' : '10³'","title":null}},"order":{"field":"p","type":"quantitative"}}}]}
]},
{"title":{"text":"N₂|CH₄","orient":"left","fontSize":22,"fontWeight":"normal","font":"DejaVu Sans","color":"black","offset":8},"spacing":7,"hconcat":[
 {"width":109,"height":81,"layer":[
  {"data":{"name":"h41"},"mark":"bar","encoding":{"x":{"field":"a","type":"quantitative","scale":{"domain":[-3.822,0.182],"nice":false,"zero":false},"axis":{"values":[-2,0],"format":"d","title":"log[O2]"}},"x2":{"field":"b"},"y":{"field":"d","type":"quantitative","scale":{"domain":[0,0.225],"nice":false},"axis":{"values":[0,0.1,0.2],"format":".1f","title":"Density"}},"y2":{"datum":0}}},
  {"data":{"values":[{"m":"−0.57","p":"+0.32","n":"−0.43"}]},"layer":[
   {"mark":{"type":"text","align":"right","fontSize":16},"encoding":{"x":{"datum":-1.526},"y":{"datum":0.2472},"text":{"field":"m"}}},
   {"mark":{"type":"text","align":"left","fontSize":10.5,"dx":1},"encoding":{"x":{"datum":-1.526},"y":{"datum":0.2666},"text":{"field":"p"}}},
   {"mark":{"type":"text","align":"left","fontSize":10.5,"dx":1},"encoding":{"x":{"datum":-1.526},"y":{"datum":0.2356},"text":{"field":"n"}}}]}]},
 {"width":109,"height":81,"layer":[
  {"data":{"name":"h42"},"mark":"bar","encoding":{"x":{"field":"a","type":"quantitative","scale":{"domain":[-3.7275,0.1775],"nice":false,"zero":false},"axis":{"values":[-2,0],"format":"d","title":"log[N2]"}},"x2":{"field":"b"},"y":{"field":"d","type":"quantitative","scale":{"domain":[0,0.315],"nice":false},"axis":{"values":[0,0.2],"format":".1f","title":null}},"y2":{"datum":0}}},
  {"data":{"values":[{"v":-0.01}]},"mark":"rule","encoding":{"x":{"field":"v","type":"quantitative"}}},
  {"data":{"values":[{"m":"−0.31","p":"+0.19","n":"−0.42"}]},"layer":[
   {"mark":{"type":"text","align":"right","fontSize":16},"encoding":{"x":{"datum":-1.488},"y":{"datum":0.3461},"text":{"field":"m"}}},
   {"mark":{"type":"text","align":"left","fontSize":10.5,"dx":1},"encoding":{"x":{"datum":-1.488},"y":{"datum":0.3733},"text":{"field":"p"}}},
   {"mark":{"type":"text","align":"left","fontSize":10.5,"dx":1},"encoding":{"x":{"datum":-1.488},"y":{"datum":0.3298},"text":{"field":"n"}}}]}]},
 {"width":109,"height":81,"layer":[
  {"data":{"name":"h43"},"mark":"bar","encoding":{"x":{"field":"a","type":"quantitative","scale":{"domain":[-12.6,0.6],"nice":false,"zero":false},"axis":{"values":[-10,0],"format":"d","title":"log[CO2]"}},"x2":{"field":"b"},"y":{"field":"d","type":"quantitative","scale":{"domain":[0,0.131],"nice":false},"axis":{"values":[0,0.05,0.1],"format":".2f","title":null}},"y2":{"datum":0}}},
  {"data":{"values":[{"m":"−7.16","p":"+1.93","n":"−3.15"}]},"layer":[
   {"mark":{"type":"text","align":"right","fontSize":16},"encoding":{"x":{"datum":-5.031},"y":{"datum":0.1439},"text":{"field":"m"}}},
   {"mark":{"type":"text","align":"left","fontSize":10.5,"dx":1},"encoding":{"x":{"datum":-5.031},"y":{"datum":0.1552},"text":{"field":"p"}}},
   {"mark":{"type":"text","align":"left","fontSize":10.5,"dx":1},"encoding":{"x":{"datum":-5.031},"y":{"datum":0.1372},"text":{"field":"n"}}}]}]},
 {"width":109,"height":81,"layer":[
  {"data":{"name":"h44"},"mark":"bar","encoding":{"x":{"field":"a","type":"quantitative","scale":{"domain":[-12.6,0.6],"nice":false,"zero":false},"axis":{"values":[-10,0],"format":"d","title":"log[SO2]"}},"x2":{"field":"b"},"y":{"field":"d","type":"quantitative","scale":{"domain":[0,0.09],"nice":false},"axis":{"values":[0,0.05],"format":".2f","title":null}},"y2":{"datum":0}}},
  {"data":{"values":[{"m":"−6.79","p":"+2.66","n":"−2.90"}]},"layer":[
   {"mark":{"type":"text","align":"right","fontSize":16},"encoding":{"x":{"datum":-5.031},"y":{"datum":0.0989},"text":{"field":"m"}}},
   {"mark":{"type":"text","align":"left","fontSize":10.5,"dx":1},"encoding":{"x":{"datum":-5.031},"y":{"datum":0.1067},"text":{"field":"p"}}},
   {"mark":{"type":"text","align":"left","fontSize":10.5,"dx":1},"encoding":{"x":{"datum":-5.031},"y":{"datum":0.0942},"text":{"field":"n"}}}]}]},
 {"width":109,"height":81,"layer":[
  {"data":{"name":"h45"},"mark":"bar","encoding":{"x":{"field":"a","type":"quantitative","scale":{"domain":[-12.6,0.6],"nice":false,"zero":false},"axis":{"values":[-10,0],"format":"d","title":"log[H2O]"}},"x2":{"field":"b"},"y":{"field":"d","type":"quantitative","scale":{"domain":[0,0.0725],"nice":false},"axis":{"values":[0,0.025,0.05],"format":".3f","title":null}},"y2":{"datum":0}}},
  {"data":{"values":[{"m":"−7.02","p":"+3.23","n":"−3.28"}]},"layer":[
   {"mark":{"type":"text","align":"right","fontSize":16},"encoding":{"x":{"datum":-5.031},"y":{"datum":0.0797},"text":{"field":"m"}}},
   {"mark":{"type":"text","align":"left","fontSize":10.5,"dx":1},"encoding":{"x":{"datum":-5.031},"y":{"datum":0.0859},"text":{"field":"p"}}},
   {"mark":{"type":"text","align":"left","fontSize":10.5,"dx":1},"encoding":{"x":{"datum":-5.031},"y":{"datum":0.0759},"text":{"field":"n"}}}]}]},
 {"width":109,"height":81,"layer":[
  {"data":{"name":"h46"},"mark":"bar","encoding":{"x":{"field":"a","type":"quantitative","scale":{"domain":[-12.6,0.6],"nice":false,"zero":false},"axis":{"values":[-10,0],"format":"d","title":"log[CH4]"}},"x2":{"field":"b"},"y":{"field":"d","type":"quantitative","scale":{"domain":[0,0.3245],"nice":false},"axis":{"values":[0,0.2],"format":".1f","title":null}},"y2":{"datum":0}}},
  {"data":{"values":[{"v":-2.1}]},"mark":"rule","encoding":{"x":{"field":"v","type":"quantitative"}}},
  {"data":{"values":[{"m":"−0.95","p":"+0.58","n":"−0.84"}]},"layer":[
   {"mark":{"type":"text","align":"right","fontSize":16},"encoding":{"x":{"datum":-5.031},"y":{"datum":0.3566},"text":{"field":"m"}}},
   {"mark":{"type":"text","align":"left","fontSize":10.5,"dx":1},"encoding":{"x":{"datum":-5.031},"y":{"datum":0.3845},"text":{"field":"p"}}},
   {"mark":{"type":"text","align":"left","fontSize":10.5,"dx":1},"encoding":{"x":{"datum":-5.031},"y":{"datum":0.3398},"text":{"field":"n"}}}]}]},
 {"width":110,"height":81,"resolve":{"axis":{"y":"independent"}},"layer":[
  {"data":{"name":"pt4"},"mark":{"type":"line","color":"red","opacity":0.45,"strokeWidth":5,"clip":true,"interpolate":"catmull-rom"},"encoding":{"x":{"field":"t","type":"quantitative","scale":{"domain":[240,1222],"nice":false,"zero":false},"axis":{"values":[500,1000],"format":"d","title":"T (K)"}},"y":{"field":"p","type":"quantitative","scale":{"type":"log","domain":[1e-9,1000],"reverse":true,"nice":false},"axis":{"orient":"left","labels":false,"ticks":false,"title":"P (bar)"}},"detail":{"field":"i","type":"nominal"},"order":{"field":"p","type":"quantitative"}}},
  {"data":{"name":"b4"},"mark":{"type":"line","color":"blue","strokeWidth":3,"clip":true,"interpolate":"catmull-rom"},"encoding":{"x":{"field":"t","type":"quantitative","axis":{"values":[500,1000],"format":"d","title":"T (K)"}},"y":{"field":"p","type":"quantitative","axis":{"orient":"right","values":[1e-9,1e-5,0.1,1000],"labelExpr":"datum.value < 1e-7 ? '10⁻⁹' : datum.value < 0.001 ? '10⁻⁵' : datum.value < 10 ? '10⁻¹' : '10³'","title":null}},"order":{"field":"p","type":"quantitative"}}}]}
]}
]
}
